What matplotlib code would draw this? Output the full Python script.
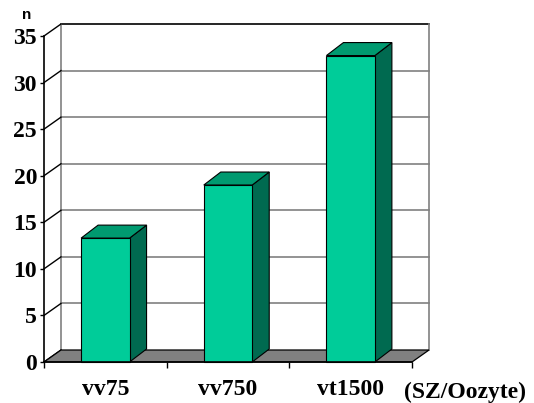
import matplotlib
matplotlib.use("Agg")
import matplotlib.pyplot as plt
from matplotlib.patches import Polygon

# Data
categories = ["vv75", "vv750", "vt1500"]
values = [13.3, 19.0, 32.9]
y_ticks = [0, 5, 10, 15, 20, 25, 30, 35]
unit_label = "(SZ/Oozyte)"
y_title = "n"

FRONT = "#00CC99"
TOP = "#009A70"
SIDE = "#006A50"
FLOOR = "#808080"
GRID = "#808080"

W, H = 534, 403
fig = plt.figure(figsize=(W / 100, H / 100), dpi=100)
ax = fig.add_axes([44 / W, 41 / H, 368 / W, 326 / H])
ax.set_xlim(0, len(categories))
ax.set_ylim(0, 35)
ax.patch.set_alpha(0)

# depth of the pseudo-3D box, given in pixels and converted to data units
depth_px = (17, 12)
bar_depth_px = (17, 13)
px_x = len(categories) / 368.0
px_y = 35.0 / 326.0
ddx, ddy = depth_px[0] * px_x, depth_px[1] * px_y
bdx, bdy = bar_depth_px[0] * px_x, bar_depth_px[1] * px_y
nx = len(categories)
ymax = y_ticks[-1]

# back wall gridlines and edges
for v in y_ticks[1:-1]:
    ax.plot([ddx, nx + ddx], [v + ddy, v + ddy], color=GRID, lw=1.2,
            clip_on=False, zorder=1)
ax.plot([ddx, nx + ddx], [ymax + ddy, ymax + ddy], color="black", lw=1.2,
        clip_on=False, zorder=1)
ax.plot([ddx, ddx], [ddy, ymax + ddy], color=GRID, lw=1.2, clip_on=False, zorder=1)
ax.plot([nx + ddx, nx + ddx], [ddy, ymax + ddy], color=GRID, lw=1.2,
        clip_on=False, zorder=1)

# side wall diagonals
for v in y_ticks:
    ax.plot([0, ddx], [v, v + ddy], color="black", lw=1.0, clip_on=False, zorder=2)

# floor
ax.add_patch(Polygon([(0, 0), (nx, 0), (nx + ddx, ddy), (ddx, ddy)],
                     closed=True, fc=FLOOR, ec="black", lw=0.9,
                     clip_on=False, zorder=3))

# bars
bw = 0.395
for i, v in enumerate(values):
    x0 = i + 0.5 - bw / 2
    x1 = x0 + bw
    ax.add_patch(Polygon([(x1, 0), (x1 + bdx, bdy), (x1 + bdx, v + bdy), (x1, v)],
                         closed=True, fc=SIDE, ec="black", lw=0.8,
                         clip_on=False, zorder=4))
    ax.add_patch(Polygon([(x0, v), (x1, v), (x1 + bdx, v + bdy), (x0 + bdx, v + bdy)],
                         closed=True, fc=TOP, ec="black", lw=0.8,
                         clip_on=False, zorder=4))
    ax.add_patch(Polygon([(x0, 0), (x1, 0), (x1, v), (x0, v)],
                         closed=True, fc=FRONT, ec="black", lw=0.8,
                         clip_on=False, zorder=5))

# axes
for s in ["top", "right"]:
    ax.spines[s].set_visible(False)
for s in ["left", "bottom"]:
    ax.spines[s].set_linewidth(1.2)
    ax.spines[s].set_zorder(6)

serif_bold = {"family": "Liberation Serif", "weight": "bold"}
ax.set_yticks(y_ticks)
ax.set_yticklabels([str(t) for t in y_ticks], fontdict=dict(serif_bold, size=17))
ax.tick_params(axis="y", direction="out", length=3, width=1.0, pad=2)

ax.set_xticks(range(nx + 1))
ax.set_xticklabels([])
ax.tick_params(axis="x", which="major", direction="out", length=4.3, width=1.0)
ax.set_xticks([i + 0.5 for i in range(nx)], minor=True)
ax.set_xticklabels(categories, minor=True, fontdict=dict(serif_bold, size=17))
ax.tick_params(axis="x", which="minor", length=0, pad=12)

fig.text(465 / W, (H - 392) / H, unit_label, ha="center", va="center",
         fontdict=dict(serif_bold, size=17))
fig.text(27 / W, (H - 15) / H, y_title, ha="center", va="center",
         family="Liberation Sans", weight="bold", size=11)

fig.savefig("out.png", dpi=100)
